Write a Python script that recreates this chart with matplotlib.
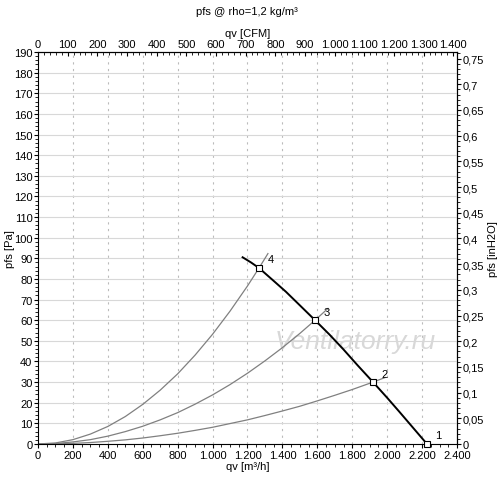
import numpy as np
import matplotlib.pyplot as plt
from matplotlib.ticker import FuncFormatter, MultipleLocator

plt.rcParams['font.family'] = ['Liberation Sans', 'DejaVu Sans']

# fan curve, qv [m3/h] / pfs [Pa]
fan_qv = [1172, 1220, 1266, 1340, 1420, 1500, 1587, 1670, 1750, 1830,
          1919, 2000, 2070, 2150, 2228]
fan_pfs = [90.5, 88.0, 85.3, 79.8, 73.8, 67.2, 60.0, 53.0, 45.8, 38.2,
           30.0, 22.4, 15.6, 7.7, 0.0]

# system curves (estimated readings)
sys4_qv = [0, 100, 200, 300, 400, 500, 600, 700, 800, 900, 1000, 1100,
           1200, 1266, 1317]
sys4_pfs = [0, 0.5, 2.1, 4.8, 8.5, 13.3, 19.2, 26.1, 34.0, 43.1, 53.2, 64.4,
            76.6, 85.3, 92.3]
sys3_qv = [0, 100, 200, 300, 400, 500, 600, 700, 800, 900, 1000, 1100,
           1200, 1300, 1400, 1500, 1587, 1661]
sys3_pfs = [0, 0.2, 1.0, 2.1, 3.8, 6.0, 8.6, 11.7, 15.2, 19.3, 23.8, 28.8,
            34.3, 40.3, 46.7, 53.6, 60.0, 65.7]
sys2_qv = [0, 100, 200, 300, 400, 500, 600, 700, 800, 900, 1000, 1100,
           1200, 1300, 1400, 1500, 1600, 1700, 1800, 1919, 1988]
sys2_pfs = [0, 0.1, 0.3, 0.7, 1.3, 2.0, 2.9, 4.0, 5.2, 6.6, 8.1, 9.9,
            11.7, 13.8, 16.0, 18.3, 20.9, 23.6, 26.4, 30.0, 32.2]

# operating points
op_labels = ['1', '2', '3', '4']
op_qv = [2228, 1919, 1587, 1266]
op_pfs = [0.0, 30.0, 60.0, 85.3]

M3H_PER_CFM = 1.699
PA_PER_INH2O = 249.09


def dot_thousands(v, pos):
    return f'{v:,.0f}'.replace(',', '.')


def comma_dec(v, pos):
    s = f'{v:.2f}'.rstrip('0').rstrip('.')
    return s.replace('.', ',')


fig = plt.figure(figsize=(5.0, 4.85), dpi=100)
ax = fig.add_axes([0.076, 0.0825, 0.838, 0.8082])

ax.set_xlim(0, 2400)
ax.set_ylim(0, 190)

ax.xaxis.set_major_locator(MultipleLocator(200))
ax.xaxis.set_minor_locator(MultipleLocator(50))
ax.yaxis.set_major_locator(MultipleLocator(10))
ax.yaxis.set_minor_locator(MultipleLocator(2))
ax.xaxis.set_major_formatter(FuncFormatter(dot_thousands))

ax.grid(axis='y', color='#d8d8d8', lw=0.8, ls='-')
ax.grid(axis='x', color='#bbbbbb', lw=0.8, ls=(0, (2, 4)))
ax.set_axisbelow(True)

ax.tick_params(labelsize=8, direction='out', length=3, width=0.8, pad=1)
ax.tick_params(which='minor', direction='out', length=2, width=0.6)

for q, p in [(sys4_qv, sys4_pfs), (sys3_qv, sys3_pfs), (sys2_qv, sys2_pfs)]:
    ax.plot(q, p, color='#808080', lw=0.9, zorder=2)

ax.plot(fan_qv, fan_pfs, color='black', lw=1.4, zorder=3)
ax.plot(op_qv, op_pfs, ls='none', marker='s', ms=4, mfc='white',
        mec='black', mew=0.8, zorder=4, clip_on=False)
for lab, q, p in zip(op_labels, op_qv, op_pfs):
    ax.annotate(lab, (q, p), xytext=(6, 4), textcoords='offset points',
                fontsize=8)

ax.text(1820, 50, 'Ventilatorry.ru', fontsize=19, style='italic',
        color='#d8d8d8', ha='center', va='center', zorder=1)

ax.set_xlabel('qv [m³/h]', fontsize=8, labelpad=1)
ax.set_ylabel('pfs [Pa]', fontsize=8)
ax.yaxis.set_label_coords(-0.056, 0.5)

top = ax.secondary_xaxis('top', functions=(lambda x: x / M3H_PER_CFM,
                                           lambda x: x * M3H_PER_CFM))
top.xaxis.set_major_locator(MultipleLocator(100))
top.xaxis.set_minor_locator(MultipleLocator(20))
top.xaxis.set_major_formatter(FuncFormatter(dot_thousands))
top.tick_params(labelsize=8, direction='in', length=3, width=0.8, pad=2)
top.tick_params(which='minor', direction='in', length=2, width=0.6)
top.set_xlabel('qv [CFM]', fontsize=8, labelpad=2)

right = ax.secondary_yaxis('right', functions=(lambda y: y / PA_PER_INH2O,
                                               lambda y: y * PA_PER_INH2O))
right.yaxis.set_major_locator(MultipleLocator(0.05))
right.yaxis.set_minor_locator(MultipleLocator(0.01))
right.yaxis.set_major_formatter(FuncFormatter(comma_dec))
right.tick_params(labelsize=8, direction='out', length=3, width=0.8, pad=1)
right.tick_params(which='minor', direction='out', length=2, width=0.6)
right.set_ylabel('pfs [inH2O]', fontsize=8, labelpad=3)

fig.text(0.494, 0.975, 'pfs @ rho=1,2 kg/m³', fontsize=8, ha='center', va='center')

fig.savefig('out.png', dpi=100)
